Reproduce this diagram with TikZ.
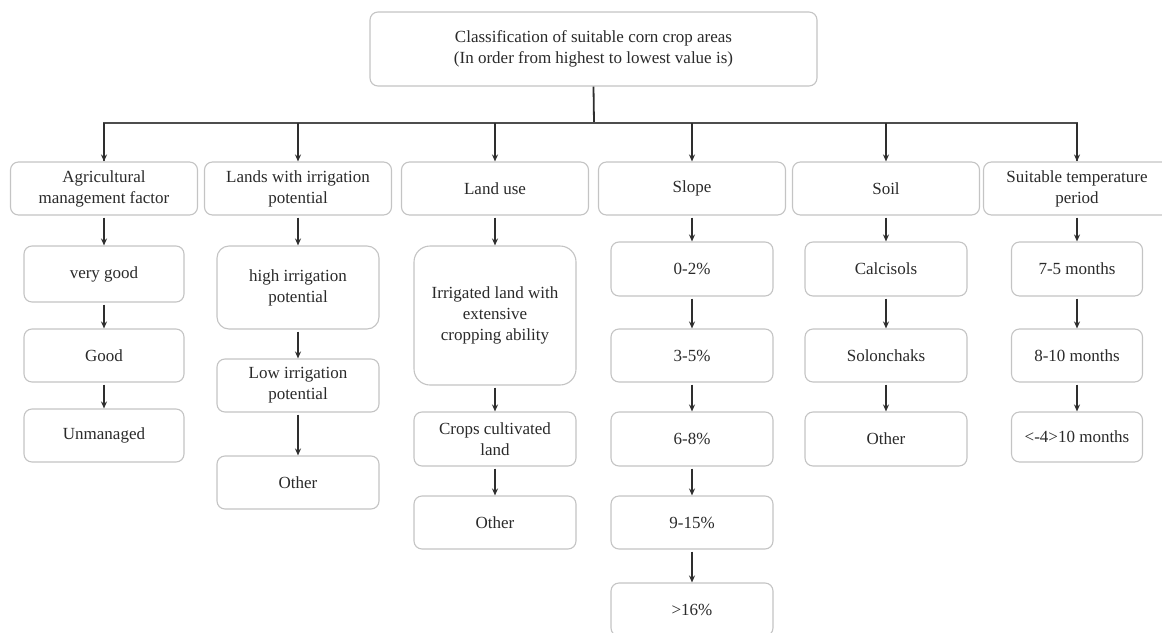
\documentclass[tikz,border=0pt]{standalone}
\usepackage{fontspec}
\setmainfont{Liberation Serif}
\usetikzlibrary{arrows.meta}
\definecolor{boxline}{HTML}{C4C4C4}
\definecolor{txt}{HTML}{2A2A2A}
\definecolor{conn}{HTML}{2E2E2E}
\begin{document}
\begin{tikzpicture}[x=1pt,y=-1pt,
  box/.style={draw=boxline, line width=1.1pt, rounded corners=8pt, fill=white,
    inner sep=0pt, align=center, text=txt,
    font=\fontsize{17}{21}\selectfont},
  arr/.style={draw=conn, line width=1.3pt, -{Stealth[length=7pt,width=6pt]}, shorten <=2pt},
  trunk/.style={draw=conn, line width=1.8pt},
  bar/.style={draw=conn!85, line width=1.4pt}]
\useasboundingbox (0,0) rectangle (1162,632);
\clip (0,0) rectangle (1162,632);
% top
\node[box, minimum width=447pt, minimum height=74pt] (top) at (593.5,49)
  {Classification of suitable corn crop areas\\(In order from highest to lowest value is)};
% level 1
\tikzset{l1/.style={box, minimum width=187pt, minimum height=53pt}}
\node[l1] (b1) at (104,188.5) {Agricultural\\management factor};
\node[l1] (b2) at (298,188.5) {Lands with irrigation\\potential};
\node[l1] (b3) at (495,188.5) {Land use};
\node[l1] (b4) at (692,188.5) {Slope};
\node[l1] (b5) at (886,188.5) {Soil};
\node[l1] (b6) at (1077,188.5) {Suitable temperature\\period};
% column 1
\tikzset{c1/.style={box, minimum width=160pt, minimum height=53pt}}
\node[c1, minimum height=56pt] (a1) at (104,274) {very good};
\node[c1] (a2) at (104,355.5) {Good};
\node[c1] (a3) at (104,435.5) {Unmanaged};
% column 2
\tikzset{c2/.style={box, minimum width=162pt, minimum height=53pt}}
\node[c2, minimum height=83pt, rounded corners=12pt] (p1) at (298,287.5) {high irrigation\\potential};
\node[c2] (p2) at (298,385.5) {Low irrigation\\potential};
\node[c2] (p3) at (298,482.5) {Other};
% column 3
\node[c2, minimum height=139pt, rounded corners=16pt] (u1) at (495,315.5) {Irrigated land with\\extensive\\cropping ability};
\node[c2, minimum height=54pt] (u2) at (495,439) {Crops cultivated\\land};
\node[c2] (u3) at (495,522.5) {Other};
% column 4
\tikzset{c4/.style={box, minimum width=162pt, minimum height=54pt}}
\node[c4] (s1) at (692,269) {0-2\%};
\node[c4, minimum height=53pt] (s2) at (692,355.5) {3-5\%};
\node[c4] (s3) at (692,439) {6-8\%};
\node[c4, minimum height=53pt] (s4) at (692,522.5) {9-15\%};
\node[c4, minimum height=53pt] (s5) at (692,609.5) {>16\%};
% column 5
\node[c4] (o1) at (886,269) {Calcisols};
\node[c4, minimum height=53pt] (o2) at (886,355.5) {Solonchaks};
\node[c4] (o3) at (886,439) {Other};
% column 6
\tikzset{c6/.style={box, minimum width=131pt, minimum height=54pt}}
\node[c6] (t1) at (1077,269) {7-5 months};
\node[c6, minimum height=53pt] (t2) at (1077,355.5) {8-10 months};
\node[c6, minimum height=50pt] (t3) at (1077,437) {<-4>10 months};
% connectors
\coordinate (j) at (594,123);
\draw[trunk] (top.south) -- (j);
\draw[bar] (j) -| (b1.north);
\draw[bar] (j) -| (b6.north);
\foreach \b in {b1,b2,b3,b4,b5,b6} {
  \draw[arr, shorten <=0pt] (j -| \b.north) -- (\b.north);
}
\draw[arr] (b1.south) -- (a1.north);
\draw[arr] (a1.south) -- (a2.north);
\draw[arr] (a2.south) -- (a3.north);
\draw[arr] (b2.south) -- (p1.north);
\draw[arr] (p1.south) -- (p2.north);
\draw[arr] (p2.south) -- (p3.north);
\draw[arr] (b3.south) -- (u1.north);
\draw[arr] (u1.south) -- (u2.north);
\draw[arr] (u2.south) -- (u3.north);
\draw[arr] (b4.south) -- (s1.north);
\draw[arr] (s1.south) -- (s2.north);
\draw[arr] (s2.south) -- (s3.north);
\draw[arr] (s3.south) -- (s4.north);
\draw[arr] (s4.south) -- (s5.north);
\draw[arr] (b5.south) -- (o1.north);
\draw[arr] (o1.south) -- (o2.north);
\draw[arr] (o2.south) -- (o3.north);
\draw[arr] (b6.south) -- (t1.north);
\draw[arr] (t1.south) -- (t2.north);
\draw[arr] (t2.south) -- (t3.north);
\end{tikzpicture}
\end{document}
